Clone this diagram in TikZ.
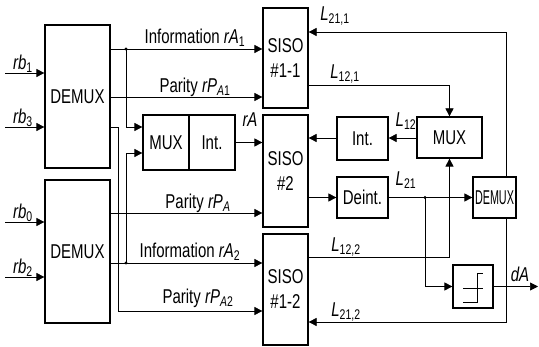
\documentclass[tikz,border=0pt]{standalone}
\usepackage{fontspec}
\setmainfont{Liberation Sans}[FakeStretch=0.75]
\usetikzlibrary{arrows.meta}
\newcommand\lsb[1]{\textsubscript{#1}}
\tikzset{
  blk/.style={draw, line width=1.2pt, inner sep=0pt, align=center},
  ln/.style={line width=0.7pt},
  arr/.style={ln, -{Triangle[length=8pt,width=8pt]}},
  lbl/.style={inner sep=0pt},
  every node/.style={font=\fontsize{20}{25}\selectfont},
}
\begin{document}
\begin{tikzpicture}[x=1pt,y=-1pt]
\useasboundingbox (0,0) rectangle (539,347);
% blocks
\node[blk, minimum width=65pt, minimum height=143pt] (dmx1) at (77.5,96.5) {DEMUX};
\node[blk, minimum width=65pt, minimum height=143pt] (dmx2) at (77.5,251.5) {DEMUX};
\node[blk, minimum width=45pt, minimum height=100pt] (siso1) at (285.5,58) {SISO\\\#1-1};
\node[blk, minimum width=45pt, minimum height=112pt] (siso2) at (285.5,171) {SISO\\\#2};
\node[blk, minimum width=45pt, minimum height=111pt] (siso3) at (285.5,289.5) {SISO\\\#1-2};
\node[blk, minimum width=46pt, minimum height=55pt] (mux1) at (166,142.5) {MUX};
\node[blk, minimum width=46pt, minimum height=55pt] (int1) at (212,142.5) {Int.};
\node[blk, minimum width=51pt, minimum height=43pt] (int2) at (362.5,138.5) {Int.};
\node[blk, minimum width=65pt, minimum height=41pt] (mux2) at (449.5,137.5) {MUX};
\node[blk, minimum width=51pt, minimum height=41pt] (deint) at (362.5,197.5) {Deint.};
\node[blk, minimum width=43pt, minimum height=41pt] (dmx3) at (494.5,197.5) {\scalebox{0.72}[1]{DEMUX}};
\node[blk, minimum width=40pt, minimum height=43pt] (thr) at (473,286.5) {};
\draw[ln] ([shift={(-10,15.5)}]thr.center) -- ++(14,0) -- ++(0,-29) -- ++(6,0);
\draw[ln] ([shift={(-10,1.5)}]thr.center) -- ++(20,0);
% inputs
\coordinate (in1) at (5,73);
\coordinate (in3) at (5,127);
\coordinate (in0) at (5,222);
\coordinate (in2) at (5,277);
\draw[arr] (in1) -- (in1 -| dmx1.west);
\draw[arr] (in3) -- (in3 -| dmx1.west);
\draw[arr] (in0) -- (in0 -| dmx2.west);
\draw[arr] (in2) -- (in2 -| dmx2.west);
\node[lbl] (lrb1) at (23,64) {\textit{rb}\lsb{1}};
\node[lbl] (lrb3) at (23,118) {\textit{rb}\lsb{3}};
\node[lbl] (lrb0) at (23,213) {\textit{rb}\lsb{0}};
\node[lbl] (lrb2) at (23,268) {\textit{rb}\lsb{2}};
% left connections
\coordinate (j1) at (126,49);
\coordinate (j2) at (126,263);
\coordinate (k1) at (118,127);
\draw[arr] (dmx1.east |- j1) -- (siso1.west |- j1);
\draw[arr] (dmx1.east |- 0,97) -- (siso1.west |- 0,97);
\draw[arr] (dmx1.east |- k1) -- (k1) -- (118,311) -- (siso3.west |- 0,311);
\draw[arr] (j1) -- (126,127) -- (mux1.west |- 0,127);
\draw[arr] (j2) -- (126,153) -- (mux1.west |- 0,153);
\draw[arr] (int1.east) -- (siso2.west |- int1.east);
\draw[arr] (dmx2.east |- 0,213) -- (siso2.west |- 0,213);
\draw[arr] (dmx2.east |- j2) -- (siso3.west |- j2);
\fill (j1) circle (1.6pt);
\fill (j2) circle (1.6pt);
\node[lbl] (linf1) at (195,38) {Information \textit{rA}\lsb{1}};
\node[lbl] (lpar1) at (195,87) {Parity \textit{rP}\lsb{\textit{A}1}};
\node[lbl] (lra) at (250,120) {\textit{rA}};
\node[lbl] (lpar) at (198,203) {Parity \textit{rP}\lsb{\textit{A}}};
\node[lbl] (linf2) at (190,252) {Information \textit{rA}\lsb{2}};
\node[lbl] (lpar2) at (198,298) {Parity \textit{rP}\lsb{\textit{A}2}};
% right connections
\coordinate (t1) at (506,32);
\coordinate (b1) at (506,322);
\coordinate (j3) at (425,197.5);
\coordinate (out) at (538,286.5);
\draw[arr] (dmx3.north -| t1) -- (t1) -- (siso1.east |- t1);
\draw[arr] (dmx3.south -| b1) -- (b1) -- (siso3.east |- b1);
\draw[arr] (siso1.east |- 0,85) -| (mux2.north);
\draw[arr] (siso3.east |- 0,257) -| (mux2.south);
\draw[arr] (mux2.west |- 0,138) -- (int2.east |- 0,138);
\draw[arr] (int2.west |- 0,138) -- (siso2.east |- 0,138);
\draw[arr] (siso2.east |- deint.west) -- (deint.west);
\draw[arr] (deint.east) -- (dmx3.west);
\draw[arr] (j3) |- (thr.west);
\draw[arr] (thr.east) -- (out);
\fill (j3) circle (1.6pt);
\node[lbl] (l211) at (335,16) {\textit{L}\lsb{21,1}};
\node[lbl] (l121) at (345,74) {\textit{L}\lsb{12,1}};
\node[lbl] (l12) at (406,121) {\textit{L}\lsb{12}};
\node[lbl] (l21) at (406,180) {\textit{L}\lsb{21}};
\node[lbl] (l122) at (346,247) {\textit{L}\lsb{12,2}};
\node[lbl] (l212) at (346,312) {\textit{L}\lsb{21,2}};
\node[lbl] (lda) at (520,274) {\textit{dA}};
\end{tikzpicture}
\end{document}
